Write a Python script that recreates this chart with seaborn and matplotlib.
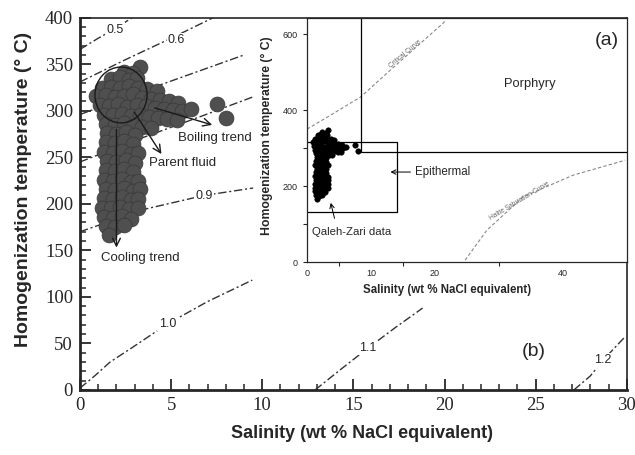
import matplotlib
matplotlib.use("Agg")
import matplotlib.pyplot as plt
import seaborn as sns
import pandas as pd
from matplotlib.patches import Ellipse
from matplotlib.ticker import MultipleLocator, FixedLocator

sns.set_style("ticks")
plt.rcParams['font.family'] = ['Liberation Sans', 'DejaVu Sans']

# ---------------- data ----------------
# fluid inclusion measurements (salinity wt% NaCl eq., homogenization temperature °C)
salinity = [
    3.3,
    2.4, 2.9,
    1.7, 2.2, 2.7, 3.1,
    1.2, 1.7, 2.2, 2.7, 3.2, 3.7, 4.2,
    0.9, 1.4, 1.9, 2.4, 2.9, 3.4, 3.9, 4.4, 4.9, 5.4,
    1.1, 1.6, 2.1, 2.6, 3.1, 3.6, 4.1, 4.6, 5.1, 5.6, 6.1,
    1.3, 1.8, 2.3, 2.8, 3.3, 3.8, 4.3, 4.8, 5.3,
    1.4, 1.9, 2.4, 2.9, 3.4, 3.9,
    1.5, 2.0, 2.5, 3.0,
    1.4, 1.9, 2.4, 2.9,
    1.3, 1.8, 2.3, 2.8, 3.2,
    1.5, 2.0, 2.5, 3.0,
    1.4, 1.9, 2.4, 2.9,
    1.3, 1.8, 2.3, 2.8, 3.2,
    1.4, 1.9, 2.4, 2.9, 3.3,
    1.3, 1.8, 2.3, 2.8, 3.2,
    1.2, 1.7, 2.2, 2.7, 3.2,
    1.3, 1.8, 2.3, 2.8,
    1.4, 1.9, 2.4,
    1.6,
    7.5, 8.0,
]
temperature = [
    347,
    342, 341,
    334, 336, 333, 335,
    325, 326, 324, 327, 325, 323, 321,
    316, 317, 315, 316, 318, 314, 313, 312, 310, 308,
    306, 305, 307, 304, 306, 305, 303, 302, 301, 300, 302,
    296, 295, 297, 294, 296, 293, 292, 291, 290,
    286, 285, 287, 284, 283, 282,
    276, 275, 277, 274,
    266, 265, 267, 264,
    256, 255, 257, 254, 255,
    246, 245, 247, 244,
    236, 235, 237, 234,
    226, 225, 227, 224, 225,
    216, 215, 217, 214, 216,
    206, 205, 207, 204, 205,
    196, 195, 197, 194, 196,
    186, 185, 187, 184,
    176, 175, 177,
    166,
    307, 292,
]

# isochores (fluid density, g/cm3)
iso_names = ["0.5", "0.6", "0.7", "0.8", "0.9", "1.0", "1.1", "1.2"]
iso_sal = [
    [0, 1.0, 2.0, 2.85],
    [0, 2.5, 5.0, 7.3],
    [0, 3.0, 6.0, 9.0],
    [0, 3.0, 6.5, 9.5],
    [0, 3.5, 6.8, 9.5],
    [0, 0.8, 1.65, 2.9, 4.8, 7.0, 9.45],
    [12.9, 14.3, 15.8, 17.3, 18.8],
    [27.1, 28.0, 28.7, 29.9],
]
iso_temp = [
    [366, 378, 389, 400],
    [331, 355, 378, 400],
    [296, 318, 339, 360],
    [245, 268, 293, 315],
    [170, 194, 209, 217],
    [2, 15, 30, 46, 71, 95, 118],
    [0, 22, 45, 67, 88],
    [0, 15, 32, 57],
]

# inset reference curves
crit_sal = [0, 4.0, 8.4, 13.0, 17.0, 21.8]
crit_temp = [350, 390, 435, 505, 565, 637]
halite_sal = [24.7, 28.1, 33.8, 41.6, 49.7]
halite_temp = [5, 84, 172, 229, 268]

df = pd.DataFrame({"salinity": salinity, "temperature": temperature})

# ---------------- figure ----------------
fig = plt.figure(figsize=(6.35, 4.55), dpi=100)
ax = fig.add_axes([0.126, 0.143, 0.861, 0.818])

dash = (0, (6, 2, 1.5, 2))
for s, t in zip(iso_sal, iso_temp):
    ax.plot(s, t, color="#333333", lw=1.0, linestyle=dash, zorder=1)

label_pos = {"0.5": (1.9, 387), "0.6": (5.3, 376), "0.9": (6.8, 208),
             "1.0": (4.8, 71), "1.1": (15.8, 45), "1.2": (28.7, 32)}
for name, (x, y) in label_pos.items():
    ax.text(x, y, name, fontsize=9, ha="center", va="center", zorder=2,
            bbox=dict(facecolor="white", edgecolor="none", pad=1.0))

sns.scatterplot(data=df, x="salinity", y="temperature", s=115, color="#4f4f4f",
                edgecolor="#383838", linewidth=0.5, ax=ax, legend=False, zorder=3)

ax.add_patch(Ellipse((2.25, 317), 2.86, 60, fill=False, ec="#1a1a1a", lw=1.0, zorder=4))
arrow = dict(arrowstyle="->", color="#1a1a1a", lw=1.0, mutation_scale=14)
ax.annotate("", xy=(7.4, 284), xytext=(3.95, 304), arrowprops=arrow, zorder=5)
ax.annotate("", xy=(4.55, 251), xytext=(2.9, 301), arrowprops=arrow, zorder=5)
ax.annotate("", xy=(2.0, 150), xytext=(2.0, 283), arrowprops=arrow, zorder=5)
ax.text(7.4, 271, "Boiling trend", fontsize=9.5, ha="center", va="center", zorder=5)
ax.text(5.65, 244, "Parent fluid", fontsize=9.5, ha="center", va="center", zorder=5)
ax.text(3.3, 142, "Cooling trend", fontsize=9.5, ha="center", va="center", zorder=5)
ax.text(24.9, 41, "(b)", fontsize=14, ha="center", va="center")

ax.set_xlim(0, 30)
ax.set_ylim(0, 400)
ax.xaxis.set_major_locator(MultipleLocator(5))
ax.xaxis.set_minor_locator(MultipleLocator(1))
ax.yaxis.set_major_locator(MultipleLocator(50))
ax.yaxis.set_minor_locator(MultipleLocator(10))
ax.tick_params(which="major", direction="in", length=8, width=1.3, labelsize=13.5,
               labelfontfamily="Liberation Serif", pad=5)
ax.tick_params(which="minor", direction="in", length=4.5, width=1.1)
for sp in ax.spines.values():
    sp.set_linewidth(1.2)
    sp.set_visible(True)
ax.spines["left"].set_linewidth(2)
ax.spines["bottom"].set_linewidth(2)

ax.set_xlabel("Salinity (wt % NaCl equivalent)", fontsize=13, fontweight="bold")
ax.set_ylabel("Homogenization temperature (° C)", fontsize=14, fontweight="bold")
ax.xaxis.set_label_coords(0.516, -0.094)
ax.yaxis.set_label_coords(-0.088, 0.538)

# ---------------- inset ----------------
ins = fig.add_axes([0.4835, 0.424, 0.504, 0.536])
ins.set_facecolor("white")
ins.set_xlim(0, 50)
ins.set_ylim(0, 642)

ins.plot(crit_sal, crit_temp, color="#888888", lw=0.8, linestyle=(0, (3, 2)))
ins.plot(halite_sal, halite_temp, color="#888888", lw=0.8, linestyle=(0, (3, 2)))
ins.text(15.3, 548, "Critical Curve", fontsize=4.8, color="#666666", rotation=40,
         ha="center", va="center")
ins.text(33.2, 160, "Halite Saturation Curve", fontsize=4.8, color="#666666", rotation=31,
         ha="center", va="center")

# porphyry field and epithermal box
ins.plot([8.4, 8.4, 50], [642, 290, 290], color="black", lw=0.9)
ins.plot([0, 14, 14, 0], [315, 315, 132, 132], color="black", lw=0.9)

sns.scatterplot(data=df, x="salinity", y="temperature", s=16, color="black",
                edgecolor="black", linewidth=0.3, ax=ins, legend=False, zorder=3)

ins.text(46.9, 584, "(a)", fontsize=14, ha="center", va="center")
ins.text(34.8, 470, "Porphyry", fontsize=9.3, ha="center", va="center")
ins.text(16.9, 237, "Epithermal", fontsize=8.3, ha="left", va="center")
ins.annotate("", xy=(12.6, 237), xytext=(16.6, 237),
             arrowprops=dict(arrowstyle="->", color="black", lw=0.7, mutation_scale=8))
ins.text(7.0, 79, "Qaleh-Zari data", fontsize=8.2, ha="center", va="center")
ins.annotate("", xy=(3.6, 163), xytext=(4.4, 108),
             arrowprops=dict(arrowstyle="->", color="black", lw=0.7, mutation_scale=8))

ins.xaxis.set_major_locator(FixedLocator([0, 10, 20, 40]))
ins.xaxis.set_minor_locator(FixedLocator([5, 15, 30]))
ins.yaxis.set_major_locator(FixedLocator([0, 200, 400, 600]))
ins.yaxis.set_minor_locator(FixedLocator([100, 300]))
ins.tick_params(axis="x", which="major", length=0, labelsize=6.5, pad=5)
ins.tick_params(axis="x", which="minor", length=3, width=0.8, direction="out")
ins.tick_params(axis="y", which="both", length=3, width=0.8, direction="out", labelsize=6.5)
for sp in ins.spines.values():
    sp.set_linewidth(0.9)
    sp.set_visible(True)

ins.set_xlabel("Salinity (wt % NaCl equivalent)", fontsize=8.3, fontweight="bold")
ins.set_ylabel("Homogenization temperature (° C)", fontsize=8.8, fontweight="bold")
ins.xaxis.set_label_coords(0.4375, -0.09)
ins.yaxis.set_label_coords(-0.105, 0.52)

fig.savefig("out.png", dpi=100)
